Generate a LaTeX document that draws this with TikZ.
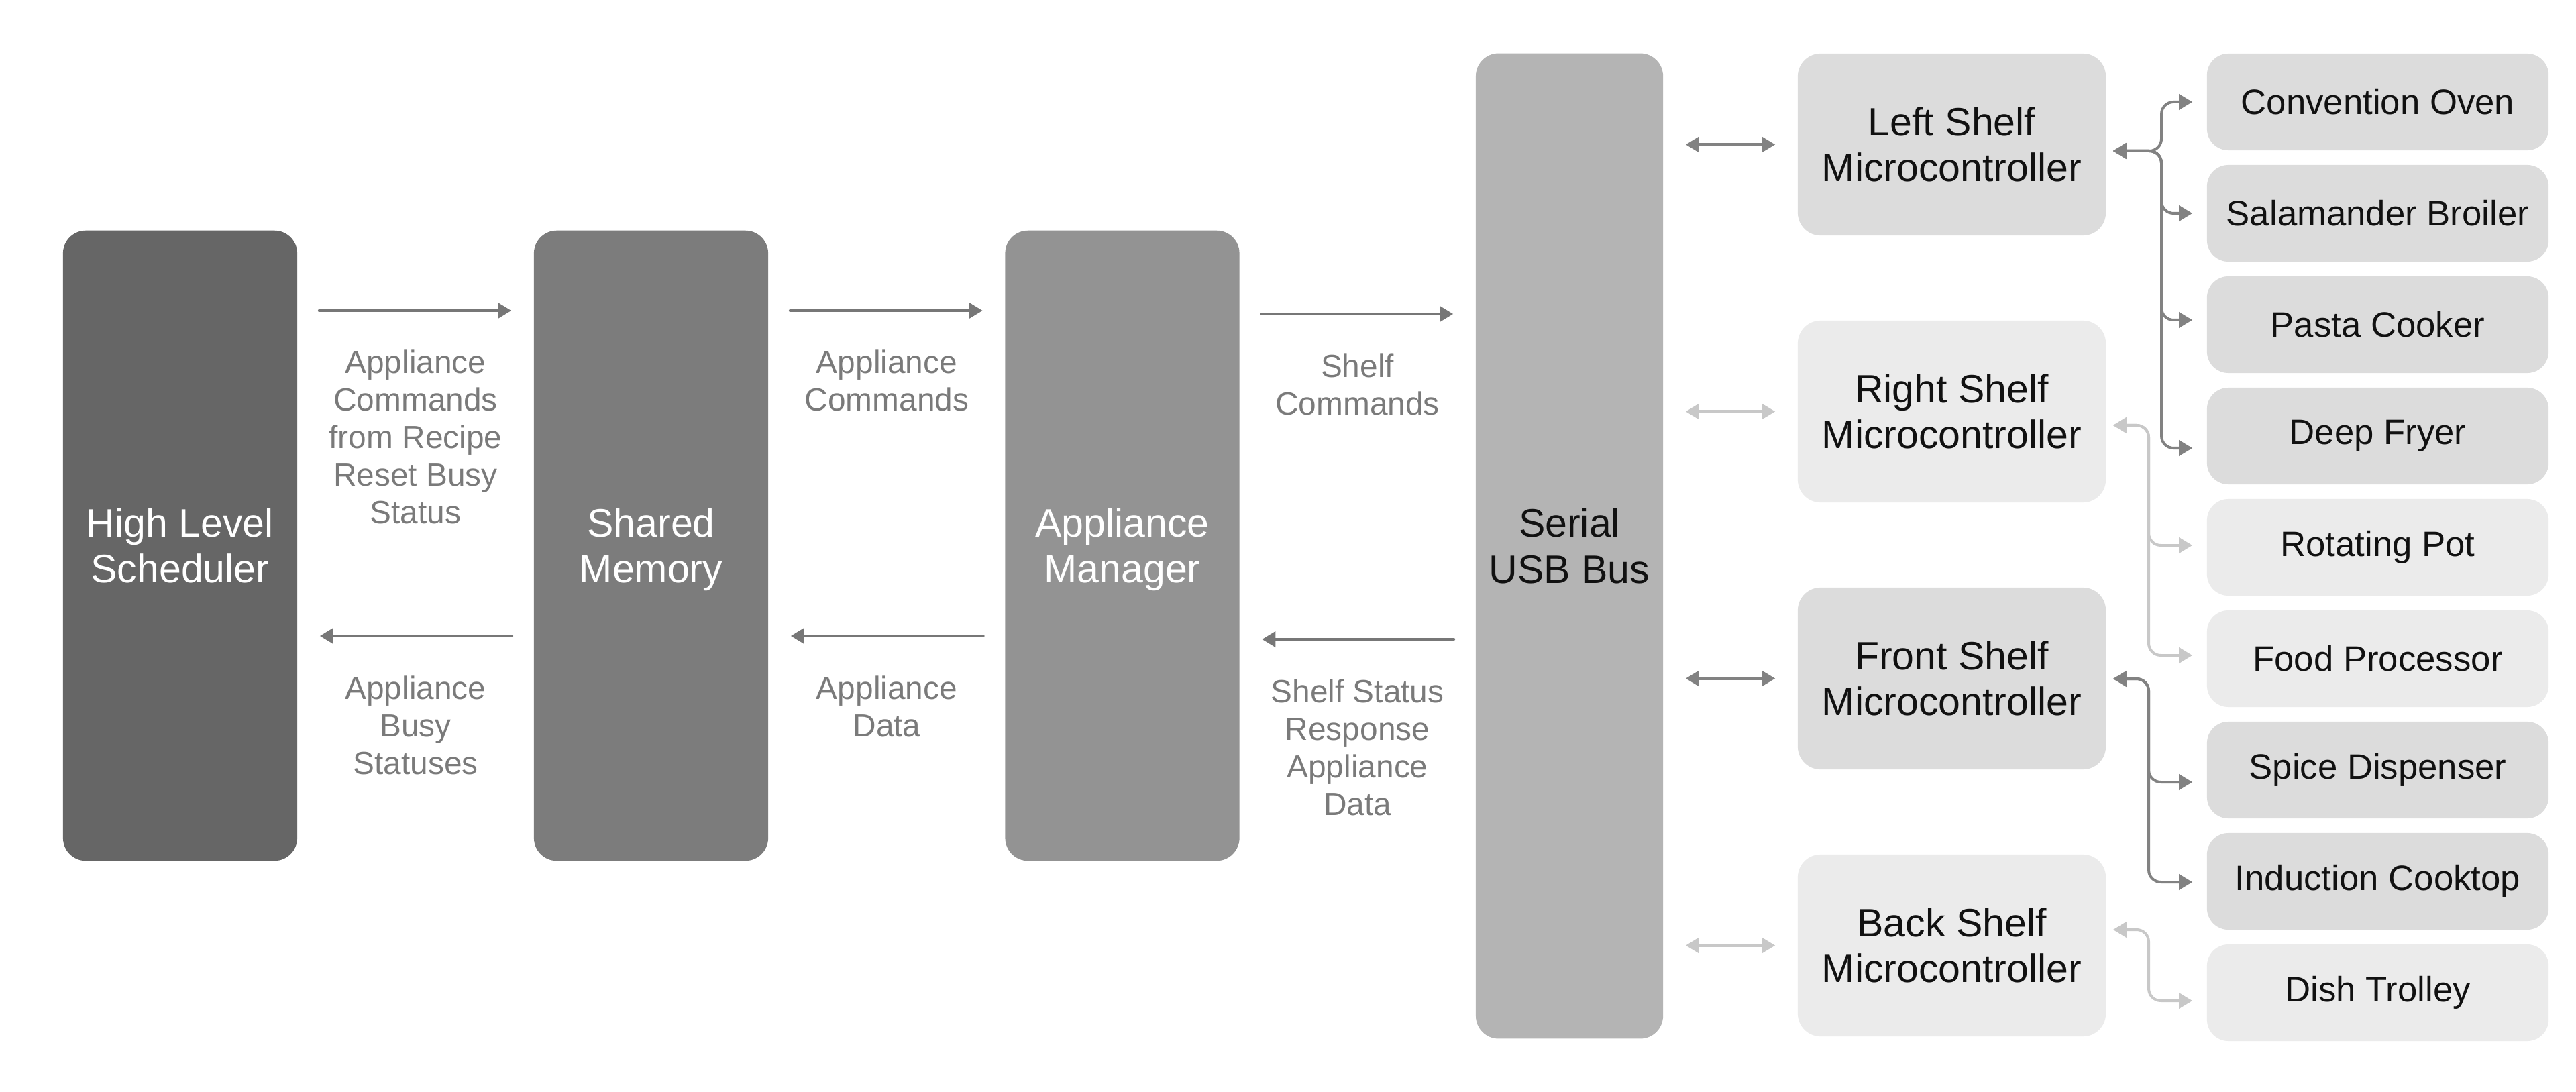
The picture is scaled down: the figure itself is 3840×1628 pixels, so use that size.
\documentclass[tikz,border=0pt]{standalone}
\usepackage{fontspec}
\setmainfont{Liberation Sans}
\usetikzlibrary{arrows.meta}
\definecolor{cHLS}{HTML}{666666}
\definecolor{cSM}{HTML}{7C7C7C}
\definecolor{cAM}{HTML}{939393}
\definecolor{cBUS}{HTML}{B4B4B4}
\definecolor{cDark}{HTML}{DCDCDC}
\definecolor{cLight}{HTML}{EBEBEB}
\definecolor{cArr}{HTML}{777777}
\definecolor{cArrD}{HTML}{828282}
\definecolor{cArrL}{HTML}{C8C8C8}
\definecolor{cLbl}{HTML}{7A7A7A}
\definecolor{cTxt}{HTML}{111111}
\newcommand{\mystrutA}{\rule[-3.75pt]{0pt}{19.5pt}}
\tikzset{
  bigbox/.style={rounded corners=0.34cm, inner sep=0pt, align=center, text=white,
    minimum width=3.49cm, minimum height=9.39cm, font=\fontsize{16.8pt}{19.5pt}\selectfont},
  mcbox/.style={rounded corners=0.34cm, inner sep=0pt, align=center, text=cTxt,
    minimum width=4.59cm, minimum height=2.71cm, font=\fontsize{16.8pt}{19.5pt}\selectfont},
  appbox/.style={rounded corners=0.32cm, inner sep=0pt, align=center, text=cTxt,
    minimum width=5.09cm, minimum height=1.44cm, font=\fontsize{15pt}{18pt}\selectfont},
  lbl/.style={inner sep=0pt, align=center, text=cLbl, anchor=north,
    font=\fontsize{13.6pt}{15.9pt}\selectfont},
  arr/.style={draw=cArr, line width=0.04cm, line cap=round,
    -{Triangle[length=0.2cm,width=0.23cm]}, shorten <=0.32cm, shorten >=0.33cm},
  barr/.style={line width=0.04cm,
    {Triangle[length=0.2cm,width=0.23cm]}-{Triangle[length=0.2cm,width=0.23cm]},
    shorten <=0.33cm, shorten >=0.33cm},
  brn/.style={line width=0.04cm, rounded corners=0.18cm,
    {Triangle[length=0.2cm,width=0.23cm]}-{Triangle[length=0.2cm,width=0.23cm]},
    shorten <=0.1cm, shorten >=0.21cm},
}
\begin{document}
\begin{tikzpicture}[x=0.01cm, y=-0.01cm]
\useasboundingbox (0,0) rectangle (3840,1628);
% main blocks
\node[bigbox, fill=cHLS] (hls) at (268.5,813.5) {\mystrutA High Level\\\mystrutA Scheduler};
\node[bigbox, fill=cSM] (sm) at (970.5,813.5) {\mystrutA Shared\\\mystrutA Memory};
\node[bigbox, fill=cAM] (am) at (1673,813.5) {\mystrutA Appliance\\\mystrutA Manager};
\node[bigbox, fill=cBUS, text=cTxt, minimum width=2.79cm, minimum height=14.68cm] (bus) at (2339.5,814) {\mystrutA Serial\\\mystrutA USB Bus};
% shelf microcontrollers
\node[mcbox, fill=cDark] (lsm) at (2909.5,215.5) {Left Shelf\\Microcontroller};
\node[mcbox, fill=cLight] (rsm) at (2909.5,613.5) {Right Shelf\\Microcontroller};
\node[mcbox, fill=cDark] (fsm) at (2909.5,1011.5) {Front Shelf\\Microcontroller};
\node[mcbox, fill=cLight] (bsm) at (2909.5,1409.5) {Back Shelf\\Microcontroller};
% appliances
\node[appbox, fill=cDark] (co) at (3544.5,152) {Convention Oven};
\node[appbox, fill=cDark] (sb) at (3544.5,318) {Salamander Broiler};
\node[appbox, fill=cDark] (pc) at (3544.5,484) {Pasta Cooker};
\node[appbox, fill=cDark] (df) at (3544.5,650) {Deep Fryer};
\node[appbox, fill=cLight] (rp) at (3544.5,816) {Rotating Pot};
\node[appbox, fill=cLight] (fp) at (3544.5,982) {Food Processor};
\node[appbox, fill=cDark] (sd) at (3544.5,1148) {Spice Dispenser};
\node[appbox, fill=cDark] (ic) at (3544.5,1314) {Induction Cooktop};
\node[appbox, fill=cLight] (dt) at (3544.5,1480) {Dish Trolley};
% main arrows
\draw[arr] (hls.east |- 0,463) -- (sm.west |- 0,463);
\draw[arr] (sm.east |- 0,463) -- (am.west |- 0,463);
\draw[arr] (am.east |- 0,468) -- (bus.west |- 0,468);
\draw[arr] (sm.west |- 0,948) -- (hls.east |- 0,948);
\draw[arr] (am.west |- 0,948) -- (sm.east |- 0,948);
\draw[arr] (bus.west |- 0,953) -- (am.east |- 0,953);
% labels
\node[lbl] (l1) at (619.5,521) {Appliance\\Commands\\from Recipe\\Reset Busy\\Status};
\node[lbl] (l2) at (1322,521) {Appliance\\Commands};
\node[lbl] (l3) at (2023.5,527) {Shelf\\Commands};
\node[lbl] (l4) at (619.5,1007) {Appliance\\Busy\\Statuses};
\node[lbl] (l5) at (1322,1007) {Appliance\\Data};
\node[lbl] (l6) at (2023.5,1012) {Shelf Status\\Response\\Appliance\\Data};
% bus <-> shelves
\draw[barr, draw=cArrD, fill=cArrD] (bus.east |- lsm.center) -- (lsm.west);
\draw[barr, draw=cArrL, fill=cArrL] (bus.east |- rsm.center) -- (rsm.west);
\draw[barr, draw=cArrD, fill=cArrD] (bus.east |- fsm.center) -- (fsm.west);
\draw[barr, draw=cArrL, fill=cArrL] (bus.east |- bsm.center) -- (bsm.west);
% left shelf branches
\foreach \t/\yy in {co/152, sb/318, pc/477, df/668}
  \draw[brn, draw=cArrD] (lsm.east |- 0,225) -- (3222,225) -- (3222,\yy) -- (\t.west |- 0,\yy);
% right shelf branches
\foreach \t/\yy in {rp/813, fp/977}
  \draw[brn, draw=cArrL] (rsm.east |- 0,634) -- (3203,634) -- (3203,\yy) -- (\t.west |- 0,\yy);
% front shelf branches
\foreach \t/\yy in {sd/1166, ic/1315}
  \draw[brn, draw=cArrD] (fsm.east |- 0,1012) -- (3203,1012) -- (3203,\yy) -- (\t.west |- 0,\yy);
% back shelf branch
\draw[brn, draw=cArrL] (bsm.east |- 0,1386) -- (3203,1386) -- (3203,1492) -- (dt.west |- 0,1492);
\end{tikzpicture}
\end{document}
